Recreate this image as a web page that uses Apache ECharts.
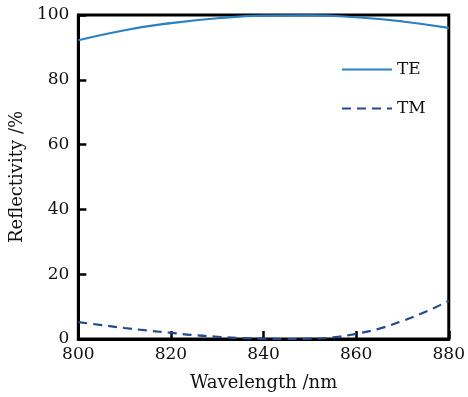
<!DOCTYPE html>
<html><head><meta charset="utf-8">
<script src="https://cdn.jsdelivr.net/npm/echarts@6/dist/echarts.min.js"></script>
<style>html,body{margin:0;padding:0;background:#fff}#c{width:468px;height:397px}</style>
</head><body><div id="c"></div>
<script>
const wavelengthsTE = [800, 810, 820, 830, 840, 850, 860, 870, 880];
const valuesTE = [92.2, 95.3, 97.5, 99.0, 99.8, 99.9, 99.3, 98.0, 96.0];
const wavelengthsTM = [800, 805, 810, 815, 820, 825, 830, 835, 840, 845, 850, 855, 860, 865, 870, 875, 880];
const valuesTM = [5.2, 4.3, 3.4, 2.6, 1.9, 1.2, 0.7, 0.3, 0.1, 0.0, 0.1, 0.5, 1.6, 3.2, 5.6, 8.4, 11.8];
const seriesNames = ['TE', 'TM'];
const xName = 'Wavelength /nm';
const yName = 'Reflectivity /%';

const font = 'DejaVu Serif';
const chart = echarts.init(document.getElementById('c'));
chart.setOption({
  animation: false,
  grid: {left: 76, right: 17, top: 15, bottom: 54, show: true, borderColor: '#000', borderWidth: 3, backgroundColor: 'transparent'},
  legend: {
    orient: 'vertical', left: 341, top: 61, padding: 0, itemWidth: 50, itemHeight: 16, itemGap: 22,
    itemStyle: {opacity: 0},
    textStyle: {fontFamily: font, fontSize: 17, color: '#111'},
    data: seriesNames
  },
  xAxis: {
    type: 'value', min: 800, max: 880, interval: 20,
    name: xName, nameLocation: 'middle', nameGap: 35,
    nameTextStyle: {fontFamily: font, fontSize: 18, color: '#111'},
    axisLine: {lineStyle: {color: '#000', width: 3}},
    axisTick: {inside: true, length: 8, lineStyle: {color: '#000', width: 2.5}},
    axisLabel: {fontFamily: font, fontSize: 17, color: '#111', margin: 7},
    splitLine: {show: false}
  },
  yAxis: {
    type: 'value', min: 0, max: 100, interval: 20,
    name: yName, nameLocation: 'middle', nameGap: 51,
    nameTextStyle: {fontFamily: font, fontSize: 18, color: '#111'},
    axisLine: {lineStyle: {color: '#000', width: 3}},
    axisTick: {inside: true, length: 8, lineStyle: {color: '#000', width: 2.5}},
    axisLabel: {fontFamily: font, fontSize: 17, color: '#111', margin: 9},
    splitLine: {show: false}
  },
  series: [
    {name: seriesNames[0], type: 'line', smooth: true, symbol: 'none',
     lineStyle: {color: '#2a80c0', width: 2.2}, itemStyle: {color: '#2a80c0'},
     data: wavelengthsTE.map((w, i) => [w, valuesTE[i]])},
    {name: seriesNames[1], type: 'line', smooth: true, symbol: 'none',
     lineStyle: {color: '#254a8c', width: 2.2, type: [9, 6]}, itemStyle: {color: '#254a8c'},
     data: wavelengthsTM.map((w, i) => [w, valuesTM[i]])}
  ]
});
</script></body></html>
